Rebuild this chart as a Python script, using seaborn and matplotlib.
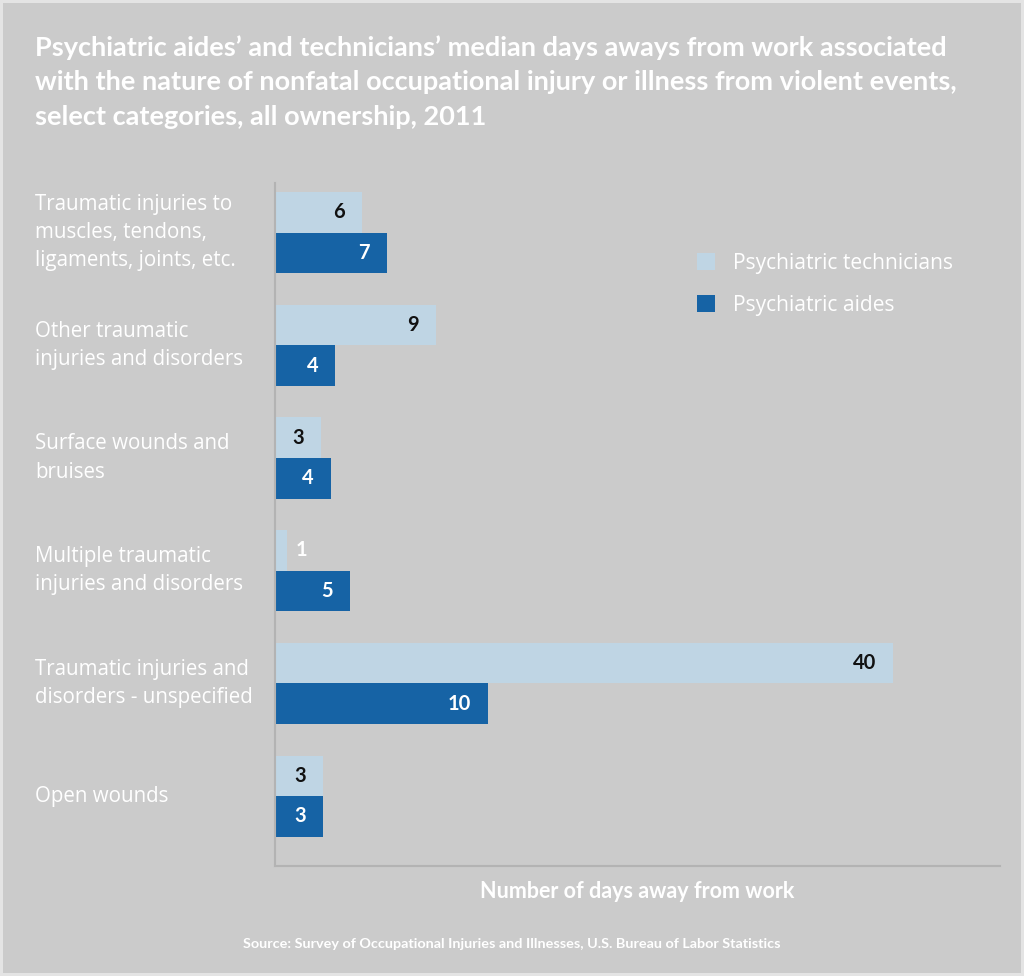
import matplotlib
matplotlib.use("Agg")
import matplotlib.pyplot as plt
import seaborn as sns
import pandas as pd
from matplotlib.transforms import blended_transform_factory

# chart data (bar lengths, labels as printed)
categories = [
    "Traumatic injuries to\nmuscles, tendons,\nligaments, joints, etc.",
    "Other traumatic\ninjuries and disorders",
    "Surface wounds and\nbruises",
    "Multiple traumatic\ninjuries and disorders",
    "Traumatic injuries and\ndisorders - unspecified",
    "Open wounds",
]
series = ["Psychiatric technicians", "Psychiatric aides"]
technician_days = [5.6, 10.4, 3.0, 0.8, 40.0, 3.1]
aide_days = [7.25, 3.9, 3.6, 4.85, 13.8, 3.1]
technician_labels = ["6", "9", "3", "1", "40", "3"]
aide_labels = ["7", "4", "4", "5", "10", "3"]

title = ("Psychiatric aides\u2019 and technicians\u2019 median days aways from work associated\n"
         "with the nature of nonfatal occupational injury or illness from violent events,\n"
         "select categories, all ownership, 2011")
xlabel = "Number of days away from work"
source = "Source: Survey of Occupational Injuries and Illnesses, U.S. Bureau of Labor Statistics"

BG = "#cbcbcb"
LIGHT = "#bfd5e4"
DARK = "#1663a5"
SPINE = "#b3b3b3"

df = pd.DataFrame({
    "category": categories * 2,
    "series": [series[0]] * len(categories) + [series[1]] * len(categories),
    "days": technician_days + aide_days,
})

sns.set_style("white")
heading = ["Lato", "DejaVu Sans"]
body = ["Open Sans", "DejaVu Sans"]

fig, ax = plt.subplots(figsize=(10.24, 9.76), dpi=100)
fig.patch.set_facecolor(BG)
fig.patch.set_edgecolor("#e4e4e4")
fig.patch.set_linewidth(3)
ax.set_facecolor(BG)
ax.set_position([275 / 1024, 1 - 866 / 976, 725 / 1024, (866 - 183) / 976])

sns.barplot(data=df, y="category", x="days", hue="series", order=categories,
            hue_order=series, palette=[LIGHT, DARK], orient="h", width=0.72,
            saturation=1, linewidth=0, ax=ax)

ax.set_xlim(0, 46.9)
ax.set_ylim(5.62, -0.44)

# value labels
for cont, labels in zip(ax.containers, [technician_labels, aide_labels]):
    dark = cont is ax.containers[1]
    for rect, lab in zip(cont, labels):
        w = rect.get_width()
        yc = rect.get_y() + rect.get_height() / 2
        if w < 2:
            ax.annotate(lab, xy=(w, yc), xytext=(8, 0), textcoords="offset pixels",
                        ha="left", va="center", color="white", fontsize=14.5,
                        fontweight="bold", family=heading)
        else:
            ax.annotate(lab, xy=(w, yc), xytext=(-17, 0), textcoords="offset pixels",
                        ha="right", va="center", color="white" if dark else "#111111",
                        fontsize=14.5, fontweight="bold", family=heading)

# category labels at the left edge of the figure
trans = blended_transform_factory(fig.transFigure, ax.transData)
for i, cat in enumerate(categories):
    ax.text(35 / 1024, i, cat, transform=trans, ha="left", va="center",
            color="white", fontsize=14.8, linespacing=1.45, family=body)

ax.set_xticks([])
ax.set_yticks([])
ax.set_xlabel("")
ax.set_ylabel("")
for side in ["top", "right"]:
    ax.spines[side].set_visible(False)
for side in ["left", "bottom"]:
    ax.spines[side].set_color(SPINE)
    ax.spines[side].set_linewidth(1.5)

handles, labels = ax.get_legend_handles_labels()
ax.legend(handles, labels, loc="upper left", bbox_to_anchor=(697 / 1024, 1 - 253 / 976),
          bbox_transform=fig.transFigure, frameon=False, borderpad=0, borderaxespad=0,
          handlelength=0.86, handleheight=0.86, handletextpad=0.86, labelspacing=1.0,
          prop={"family": body, "size": 15.1}, labelcolor="white")

fig.text(35 / 1024, 1 - 35 / 976, title, ha="left", va="top", color="white",
         fontsize=19.5, fontweight="bold", family=heading, linespacing=1.53)
fig.text(637 / 1024, 1 - 891 / 976, xlabel, ha="center", va="center", color="white",
         fontsize=15.5, fontweight="bold", family=heading)
fig.text(512 / 1024, 1 - 944 / 976, source, ha="center", va="center", color="white",
         fontsize=10.4, fontweight="bold", family=heading)

fig.savefig("out.png", dpi=100, facecolor=fig.get_facecolor(), edgecolor=fig.get_edgecolor())
